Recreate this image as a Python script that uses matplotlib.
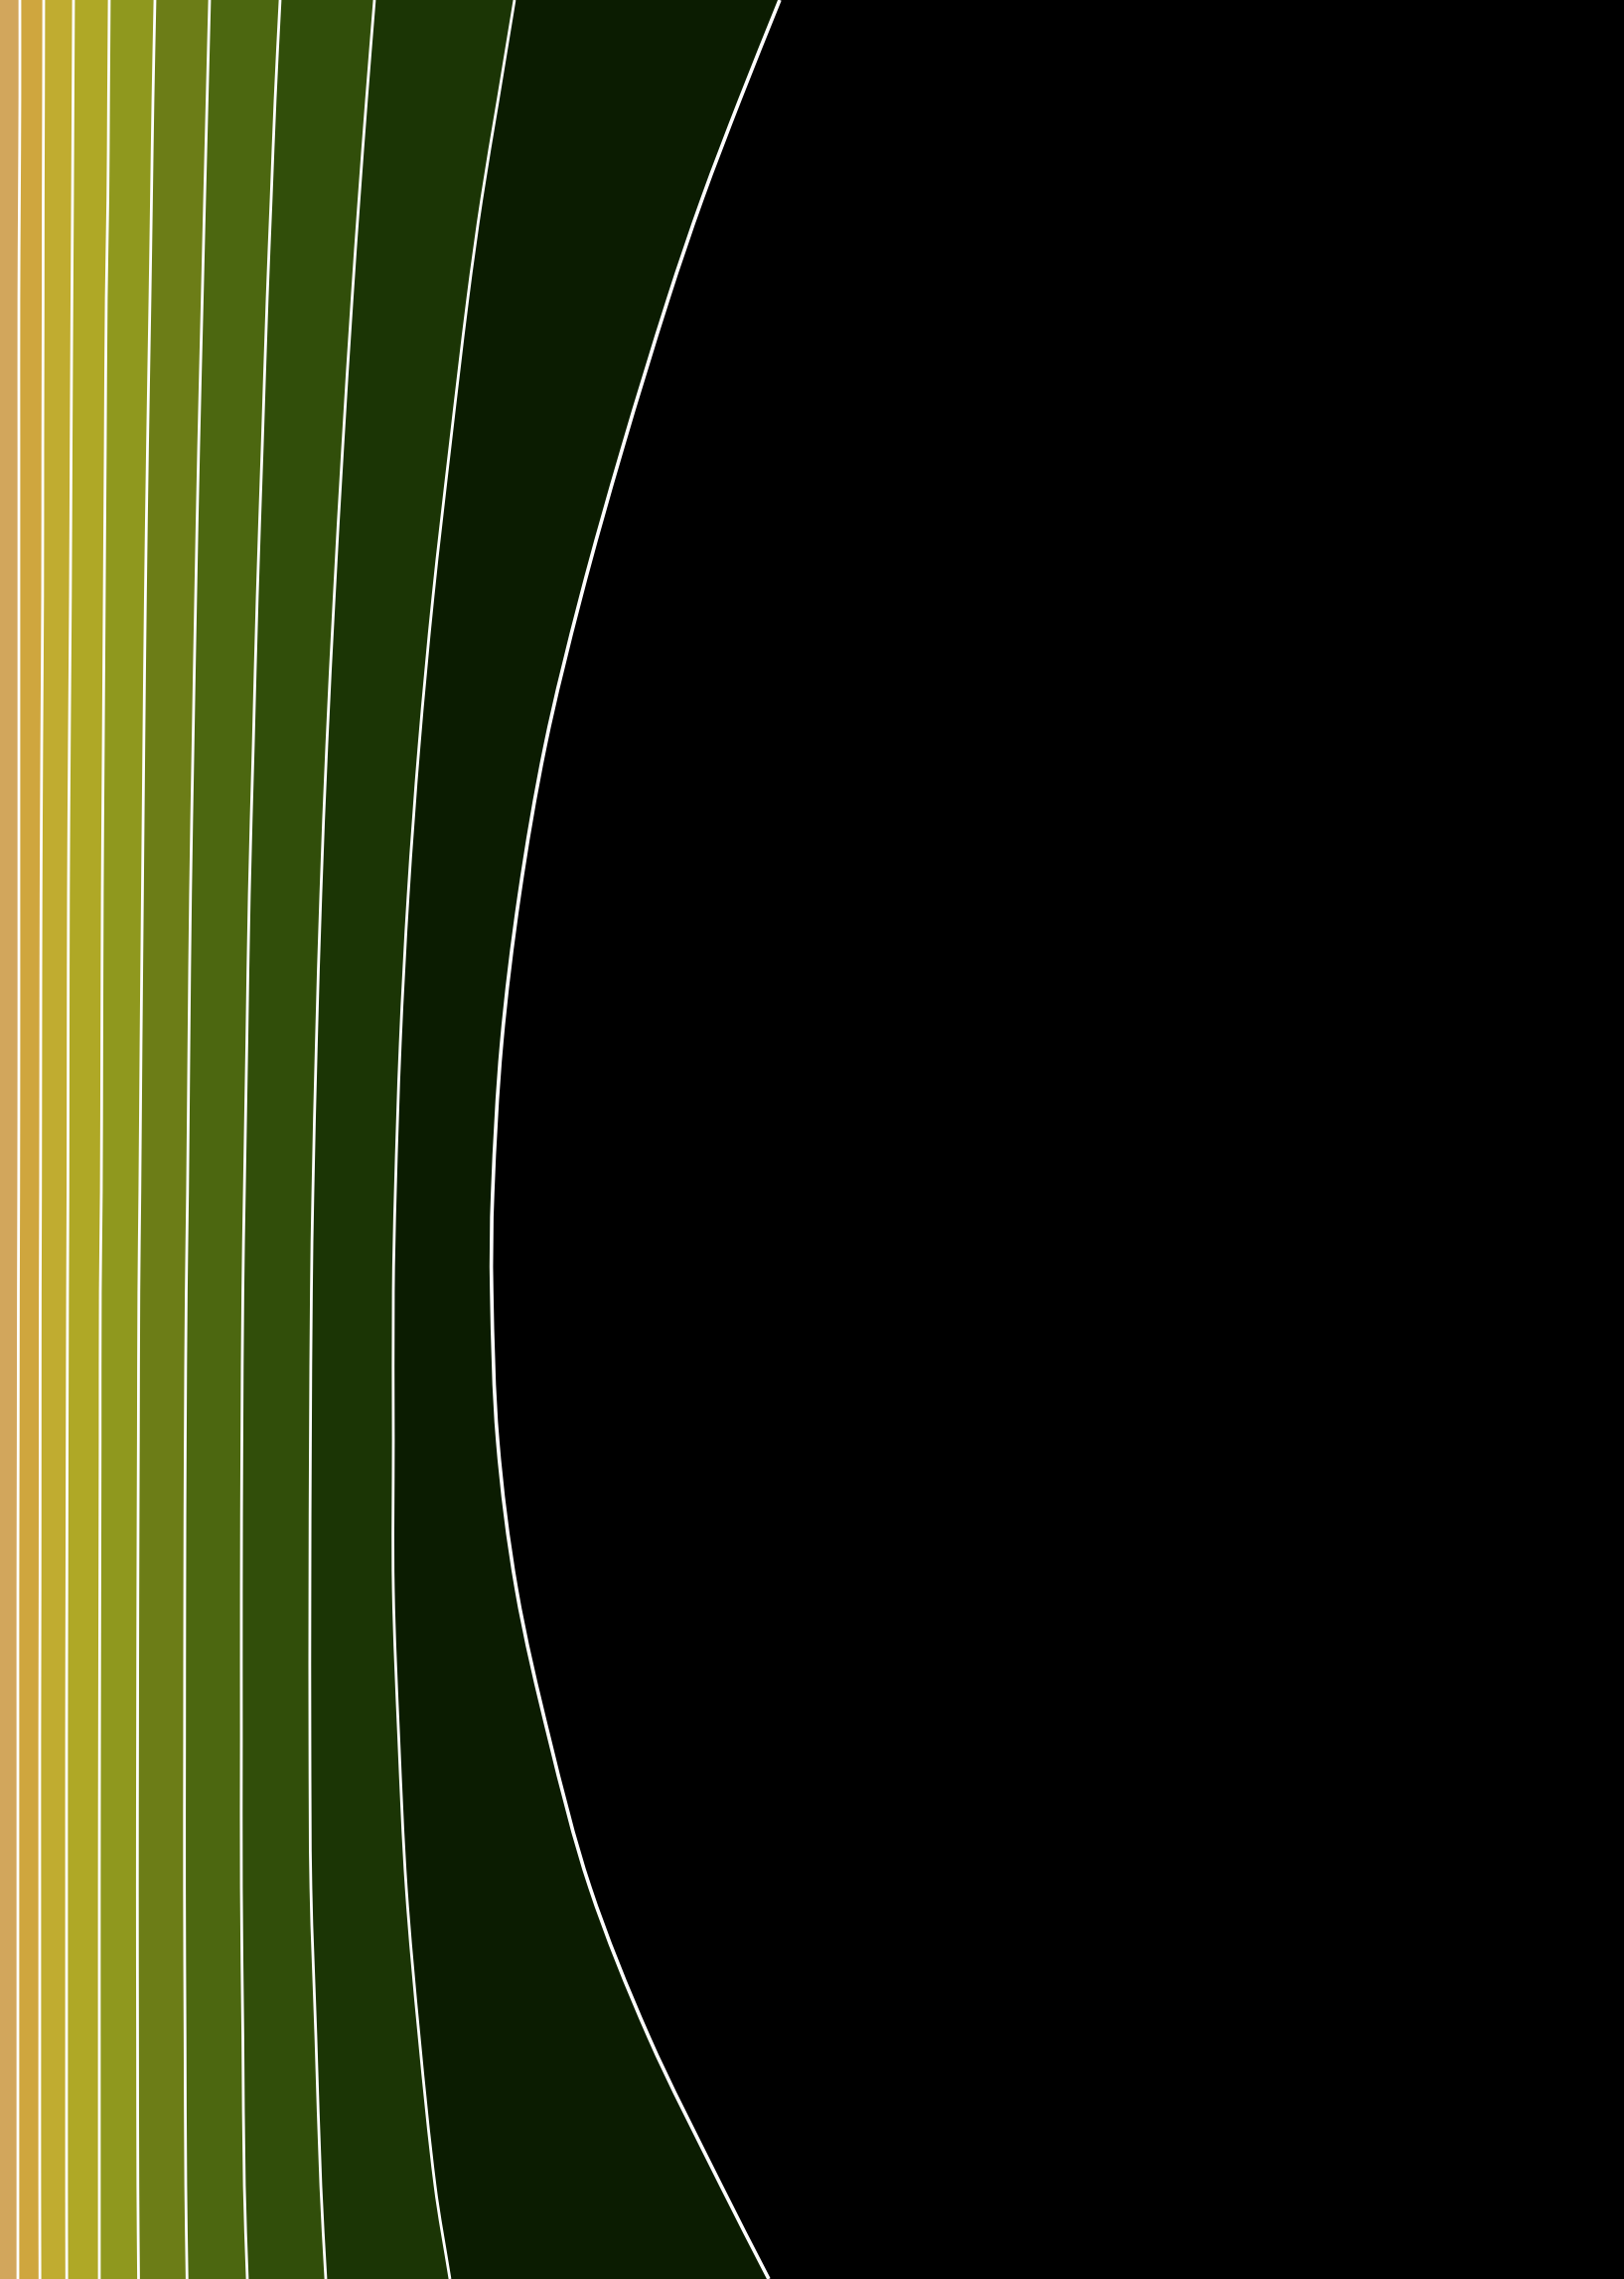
import matplotlib
matplotlib.use("Agg")
import matplotlib.pyplot as plt
from matplotlib.path import Path
from matplotlib.patches import PathPatch
import numpy as np

# vertical positions where the band edges were read (0 = top)
y_levels = [0, 100, 200, 300, 450, 600, 750, 900, 1050, 1200, 1300, 1450, 1600, 1750, 1900, 2050, 2200, 2294]

# horizontal position of each white edge at those levels, left to right
edge_1 = [20, 20, 19.5, 19, 19, 19, 19, 19, 19, 18.8, 18.5, 18.3, 18, 18, 18, 18, 18, 18]
edge_2 = [44, 43.8, 43.5, 43.4, 43.1, 42.9, 42, 41.3, 41, 40.8, 40.5, 40.4, 40.3, 40, 40, 40, 40, 40.2]
edge_3 = [74, 73.5, 73, 72.4, 71.6, 70.9, 69.8, 68.9, 68.6, 68.4, 68, 67.6, 67.3, 67, 67, 67, 67, 67.2]
edge_4 = [110, 109.3, 108.6, 107, 106, 105, 104, 103, 102.5, 102, 101, 100.8, 100.5, 100.2, 100, 100, 100, 100]
edge_5 = [156, 154, 152.5, 151, 148.5, 146.4, 144.8, 143.4, 142, 140.8, 139.8, 139.3, 138.8, 138.5, 138.3, 138.5, 138.8, 139.5]
edge_6 = [211, 208.5, 206, 203.6, 200, 197, 194.3, 191.8, 190.2, 188.8, 187.5, 186.5, 186, 185.8, 185.7, 186.3, 187, 188.3]
edge_7 = [282, 277, 273, 269, 264, 259, 255, 251, 248.5, 246, 244.5, 243.5, 243, 243, 243, 244.5, 246, 249]
edge_8 = [377, 369, 361.5, 354.5, 345, 336.5, 329, 323, 318.5, 315, 313.5, 312.5, 312, 312, 313, 318, 323, 328]
edge_9 = [518, 501.5, 485, 471, 453, 436, 422, 411, 403, 398, 396, 396, 396, 401.5, 409, 422, 438, 453]
edge_10 = [785, 745, 707, 673, 627, 585, 549, 523, 505, 496, 495, 501, 520, 553, 594, 653, 726, 774]

band_colors = ["#d2a65c", "#cfa63e", "#c0ac30", "#afa826", "#8f981e", "#6c7d17",
               "#4c6710", "#314e0a", "#1b3505", "#0b1c01", "#000000"]

W, H = 1635, 2294
edges = [edge_1, edge_2, edge_3, edge_4, edge_5, edge_6, edge_7, edge_8, edge_9, edge_10]


def smooth_path(xs, ys):
    # cubic hermite x(y) through the read points, written as bezier segments
    xs = np.asarray(xs, dtype=float)
    ys = np.asarray(ys, dtype=float)
    n = len(xs)
    m = np.empty(n)
    m[0] = (xs[1] - xs[0]) / (ys[1] - ys[0])
    m[-1] = (xs[-1] - xs[-2]) / (ys[-1] - ys[-2])
    for i in range(1, n - 1):
        m[i] = (xs[i + 1] - xs[i - 1]) / (ys[i + 1] - ys[i - 1])
    verts = [(xs[0], ys[0])]
    codes = [Path.MOVETO]
    for i in range(n - 1):
        h = ys[i + 1] - ys[i]
        verts += [(xs[i] + m[i] * h / 3, ys[i] + h / 3),
                  (xs[i + 1] - m[i + 1] * h / 3, ys[i + 1] - h / 3),
                  (xs[i + 1], ys[i + 1])]
        codes += [Path.CURVE4] * 3
    return np.array(verts), codes


fig = plt.figure(figsize=(W / 100, H / 100), dpi=100)
ax = fig.add_axes([0, 0, 1, 1])
ax.set_facecolor("black")

left_edge = [0] * len(y_levels)
right_edge = [W] * len(y_levels)
bounds = [left_edge] + edges + [right_edge]

# each band: left edge going down, right edge coming back up
for i, c in enumerate(band_colors):
    lv, lc = smooth_path(bounds[i], y_levels)
    rv, rc = smooth_path(bounds[i + 1][::-1], y_levels[::-1])
    verts = np.vstack([lv, rv, lv[:1]])
    codes = lc + [Path.LINETO] + rc[1:] + [Path.CLOSEPOLY]
    ax.add_patch(PathPatch(Path(verts, codes), facecolor=c, edgecolor=c, linewidth=0.5))

# white edge lines
for k, e in enumerate(edges):
    lw = 2.6 if k == len(edges) - 1 else 2.0
    v, cd = smooth_path(e, y_levels)
    ax.add_patch(PathPatch(Path(v, cd), facecolor="none", edgecolor="white", linewidth=lw))

ax.set_xlim(0, W)
ax.set_ylim(H, 0)
ax.axis("off")

fig.savefig("out.png", dpi=100, facecolor="black")
